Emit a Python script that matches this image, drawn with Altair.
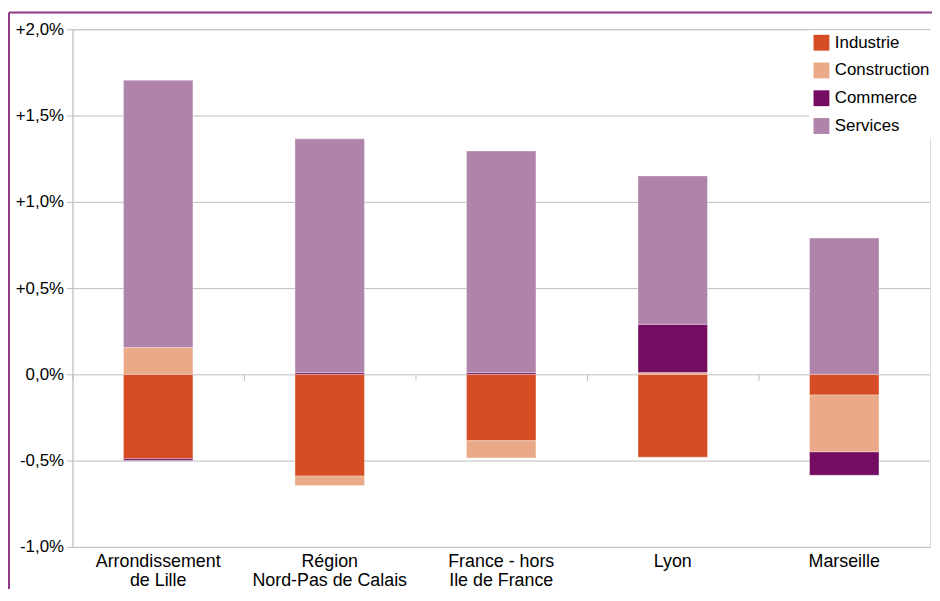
import altair as alt
import pandas as pd

# ---- data ----
categories = [
    "Arrondissement|de Lille",
    "Région|Nord-Pas de Calais",
    "France - hors|Ile de France",
    "Lyon",
    "Marseille",
]
sectors = ["Industrie", "Construction", "Commerce", "Services"]
colors = ["#D64D25", "#EBAA87", "#740D62", "#B084AA"]

industrie = [-0.49, -0.59, -0.385, -0.48, -0.12]
construction = [0.155, -0.055, -0.10, 0.01, -0.33]
commerce = [-0.01, 0.01, 0.01, 0.28, -0.135]
services = [1.55, 1.355, 1.285, 0.86, 0.79]

y_ticks = [-1.0, -0.5, 0.0, 0.5, 1.0, 1.5, 2.0]

series = [industrie, construction, commerce, services]
rows = []
for si, (name, vals) in enumerate(zip(sectors, series)):
    for cat, v in zip(categories, vals):
        rows.append({"cat": cat, "secteur": name, "value": v, "ord": si})
df = pd.DataFrame(rows)

W, H = 865, 522
FONT = "Liberation Sans"
GRID = "#BDBDBD"

x_scale = alt.Scale(domain=categories, paddingInner=0, paddingOuter=0)
y_scale = alt.Scale(domain=[-1.0, 2.0], nice=False, zero=False)

label_expr = (
    "(datum.value < 0 ? '-' : datum.value > 0 ? '+' : '') + "
    "replace(format(abs(datum.value), '.1f'), '.', ',') + '%'"
)

bars = alt.Chart(df).mark_bar(
    width=alt.RelativeBandSize(0.405),
    stroke="white", strokeWidth=1, strokeOpacity=0.35,
).encode(
    x=alt.X("cat:N", scale=x_scale, sort=categories, title=None,
            axis=alt.Axis(labelAngle=0, labelExpr="split(datum.label, '|')",
                          ticks=False, domain=False, grid=False,
                          labelFontSize=18, labelFont=FONT, labelColor="#000000",
                          labelPadding=6, labelLineHeight=19, labelBaseline="top")),
    y=alt.Y("value:Q", scale=y_scale, stack="zero", title=None,
            axis=alt.Axis(values=y_ticks, labelExpr=label_expr,
                          labelFontSize=17, labelFont=FONT, labelColor="#000000",
                          labelPadding=3, tickSize=6, tickColor=GRID,
                          domainColor=GRID, gridColor=GRID, grid=True)),
    color=alt.Color("secteur:N",
                    scale=alt.Scale(domain=sectors, range=colors),
                    legend=alt.Legend(title=None, orient="none",
                                      legendX=743, legendY=1,
                                      fillColor="white", padding=4,
                                      symbolType="square", symbolSize=256,
                                      symbolStrokeWidth=0, symbolOpacity=1,
                                      labelFontSize=17, labelFont=FONT,
                                      labelColor="#000000", labelOffset=5,
                                      rowPadding=10, labelLimit=200)),
    order=alt.Order("ord:Q"),
)

# ticks between the categories on the zero line
zero_ticks = alt.Chart(df).mark_rule(opacity=0).encode(
    x=alt.X("cat:N", scale=x_scale, sort=categories, title=None,
            axis=alt.Axis(labels=False, domain=False, grid=False,
                          ticks=True, tickSize=6, tickColor=GRID,
                          bandPosition=0, offset=-174, orient="bottom")),
)

frame_data = alt.Data(values=[{"k": 1}])
frame_left = alt.Chart(frame_data).mark_rule(color="#8E3A86", strokeWidth=2).encode(
    x=alt.value(-64), y=alt.value(-17), y2=alt.value(H + 60)
)
frame_top = alt.Chart(frame_data).mark_rule(color="#8E3A86", strokeWidth=2).encode(
    x=alt.value(-64), x2=alt.value(W + 5), y=alt.value(-17)
)

chart = alt.layer(bars, zero_ticks, frame_left, frame_top).resolve_axis(
    x="independent"
).properties(
    width=W, height=H,
    autosize=alt.AutoSizeParams(type="none"),
    padding={"left": 65, "top": 19, "right": 2, "bottom": 40},
).configure_view(stroke=None).configure(font=FONT)

chart.save("out.html", embed_options={"renderer": "svg", "actions": False})
